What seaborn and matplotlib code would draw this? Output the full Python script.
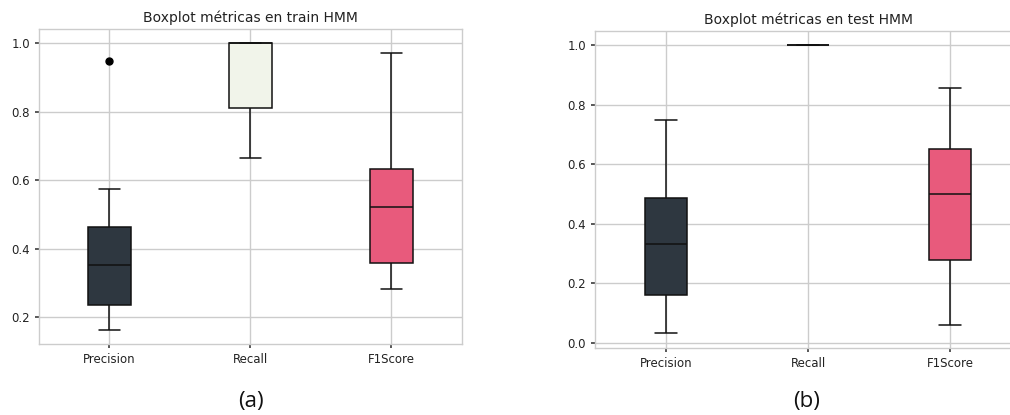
import numpy as np
import pandas as pd
import matplotlib
matplotlib.use("Agg")
import matplotlib.pyplot as plt
import seaborn as sns

metrics = ["Precision", "Recall", "F1Score"]
palette = ["#2e3740", "#f1f4ea", "#e85a7c"]

# Per-fold scores on the training split
train_precision = [0.164, 0.200, 0.236, 0.300, 0.353, 0.410, 0.464, 0.574, 0.947]
train_recall = [0.666, 0.812, 1.000, 1.000, 1.000]
train_f1 = [0.284, 0.360, 0.521, 0.633, 0.973]

# Per-fold scores on the test split
test_precision = [0.032, 0.161, 0.333, 0.485, 0.748]
test_recall = [1.000, 1.000, 1.000, 1.000, 1.000]
test_f1 = [0.060, 0.277, 0.500, 0.652, 0.856]

titles = ["Boxplot métricas en train HMM", "Boxplot métricas en test HMM"]
captions = ["(a)", "(b)"]


def long_frame(prec, rec, f1):
    rows = []
    for name, vals in zip(metrics, [prec, rec, f1]):
        rows += [(name, v) for v in vals]
    return pd.DataFrame(rows, columns=["metric", "value"])


sns.set_theme(style="whitegrid")
plt.rcParams.update({
    "axes.edgecolor": "#cccccc",
    "grid.color": "#cccccc",
    "axes.linewidth": 1.0,
    "xtick.bottom": True,
    "ytick.left": True,
    "xtick.color": "#444444",
    "ytick.color": "#444444",
    "xtick.labelcolor": "#222222",
    "ytick.labelcolor": "#222222",
    "xtick.major.size": 3,
    "ytick.major.size": 3,
})
plt.rcParams["font.family"] = ["DejaVu Sans"]

fig = plt.figure(figsize=(10.10, 4.15), dpi=100)
W, H = 1010, 415
ax_a = fig.add_axes([39 / W, (H - 344) / H, 423 / W, 315 / H])
ax_b = fig.add_axes([595 / W, (H - 347.7) / H, 426 / W, 317 / H])

frames = [long_frame(train_precision, train_recall, train_f1),
          long_frame(test_precision, test_recall, test_f1)]

for ax, df, title, cap in zip([ax_a, ax_b], frames, titles, captions):
    sns.boxplot(data=df, x="metric", y="value", hue="metric", order=metrics,
                hue_order=metrics, palette=palette, width=0.3, ax=ax,
                legend=False, saturation=1, linecolor="#111111", linewidth=1.1,
                flierprops=dict(marker="o", markerfacecolor="black",
                                markeredgecolor="black", markersize=5))
    ax.set_xlabel("")
    ax.set_ylabel("")
    ax.xaxis.grid(True)
    ax.set_axisbelow(True)
    ax.set_title(title, fontsize=10, color="#222222", pad=5)
    ax.tick_params(labelsize=8.5)
    for s in ax.spines.values():
        s.set_color("#cccccc")
    bb = ax.get_position()
    fig.text(bb.x0 + 423 / W / 2, 1 - 401 / H, cap, ha="center", va="center",
             fontsize=16, family="Open Sans", color="#111111")

ax_a.set_yticks([0.2, 0.4, 0.6, 0.8, 1.0])
ax_b.set_yticks([0.0, 0.2, 0.4, 0.6, 0.8, 1.0])

fig.savefig("out.png", dpi=100, facecolor="white")
